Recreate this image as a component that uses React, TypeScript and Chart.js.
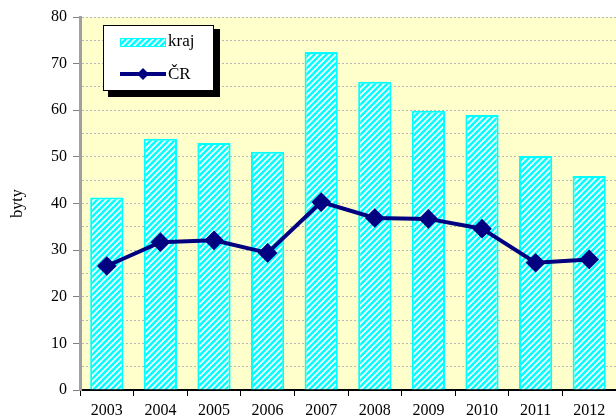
import React, { useEffect, useRef } from "react";
import { Chart, registerables } from "chart.js";

Chart.register(...registerables);

const years = ["2003", "2004", "2005", "2006", "2007", "2008", "2009", "2010", "2011", "2012"];
const krajValues = [41.3, 53.9, 53.0, 51.1, 72.5, 66.1, 59.9, 59.0, 50.2, 45.9];
const crValues = [26.6, 31.7, 32.1, 29.4, 40.3, 36.9, 36.7, 34.6, 27.3, 28.0];
const yTicks = [0, 10, 20, 30, 40, 50, 60, 70, 80];

const FONT = "'Liberation Serif', 'Times New Roman', serif";
const W = 616;
const H = 417;

function makePattern(): CanvasPattern | string {
  const c = document.createElement("canvas");
  c.width = 6;
  c.height = 6;
  const g = c.getContext("2d");
  if (!g) return "#00ffff";
  g.fillStyle = "#00ffff";
  g.fillRect(0, 0, 6, 6);
  g.strokeStyle = "#ffffff";
  g.lineWidth = 1.6;
  for (let k = -2; k <= 2; k++) {
    g.beginPath();
    g.moveTo(k * 6 - 1, 7);
    g.lineTo(k * 6 + 7, -1);
    g.stroke();
  }
  const p = g.createPattern(c, "repeat");
  return p || "#00ffff";
}

export default function App() {
  const ref = useRef<HTMLCanvasElement>(null);
  useEffect(() => {
    document.body.style.margin = "0";
    const canvas = ref.current;
    if (!canvas) return;
    const pattern = makePattern();

    const bgPlugin = {
      id: "bgPlugin",
      beforeDraw(chart: any) {
        const { ctx, chartArea } = chart;
        ctx.save();
        ctx.fillStyle = "#ffffcc";
        ctx.fillRect(chartArea.left, chartArea.top, chartArea.right - chartArea.left, chartArea.bottom - chartArea.top);
        ctx.restore();
      },
    };

    const legendPlugin = {
      id: "customLegend",
      afterDraw(chart: any) {
        const ctx = chart.ctx;
        ctx.save();
        ctx.fillStyle = "#000000";
        ctx.fillRect(108, 29, 112, 68);
        ctx.fillStyle = "#ffffff";
        ctx.fillRect(103, 25, 110, 65);
        ctx.strokeStyle = "#000000";
        ctx.lineWidth = 1;
        ctx.strokeRect(103.5, 25.5, 110, 65);
        ctx.fillStyle = pattern as any;
        ctx.fillRect(120, 38, 45, 8);
        ctx.strokeStyle = "#00ffff";
        ctx.lineWidth = 1;
        ctx.strokeRect(120.5, 38.5, 45, 8);
        ctx.strokeStyle = "#000080";
        ctx.lineWidth = 4;
        ctx.beginPath();
        ctx.moveTo(120, 74);
        ctx.lineTo(166, 74);
        ctx.stroke();
        ctx.fillStyle = "#000080";
        ctx.beginPath();
        ctx.moveTo(143, 68);
        ctx.lineTo(149, 74);
        ctx.lineTo(143, 80);
        ctx.lineTo(137, 74);
        ctx.closePath();
        ctx.fill();
        ctx.fillStyle = "#000000";
        ctx.font = "17px " + FONT;
        ctx.textBaseline = "middle";
        ctx.textAlign = "left";
        ctx.fillText("kraj", 168, 42);
        ctx.fillText("ČR", 168, 75);
        ctx.restore();
      },
    };

    const chart = new Chart(canvas, {
      data: {
        labels: years,
        datasets: [
          {
            type: "line",
            label: "ČR",
            data: crValues,
            borderColor: "#000080",
            backgroundColor: "#000080",
            borderWidth: 4,
            pointStyle: "rectRot",
            pointRadius: 7,
            pointBackgroundColor: "#000080",
            pointBorderColor: "#000080",
            tension: 0,
            order: 0,
          },
          {
            type: "bar",
            label: "kraj",
            data: krajValues,
            backgroundColor: pattern as any,
            borderColor: "#00ffff",
            borderWidth: 2,
            categoryPercentage: 1,
            barPercentage: 0.62,
            order: 1,
          },
        ],
      } as any,
      options: {
        animation: false,
        responsive: false,
        maintainAspectRatio: false,
        layout: { autoPadding: false, padding: { top: 17, left: 0, right: 0, bottom: 0 } },
        plugins: {
          legend: { display: false },
          tooltip: { enabled: false },
        },
        scales: {
          x: {
            offset: true,
            grid: {
              display: true,
              drawOnChartArea: false,
              offset: true,
              tickLength: 6,
              tickColor: "#000000",
              tickWidth: 1,
            },
            border: { display: true, color: "#000000", width: 2 },
            ticks: {
              color: "#000000",
              font: { family: FONT, size: 16 },
              padding: 5,
              maxRotation: 0,
            },
            afterFit(scale: any) {
              scale.height = 27;
              scale.paddingRight = 0;
              scale.paddingLeft = 0;
            },
          },
          y: {
            min: 0,
            max: 80,
            ticks: {
              stepSize: 5,
              color: "#000000",
              font: { family: FONT, size: 16 },
              padding: 6,
              callback: (v: any) => (yTicks.includes(Number(v)) ? String(v) : ""),
            },
            grid: {
              color: (c: any) => (c.tick && c.tick.value === 0 ? "transparent" : "#b8b8b8"),
              lineWidth: 1,
              tickLength: 7,
              tickColor: (c: any) => (c.tick && c.tick.value % 10 === 0 ? "#808080" : "transparent"),
              tickBorderDash: [],
            },
            border: { display: true, color: "#a0a0a0", width: 3, dash: [2, 2] },
            title: {
              display: true,
              text: "byty",
              color: "#000000",
              font: { family: FONT, size: 16 },
              padding: { top: 8, bottom: 0 },
            },
            afterFit(scale: any) {
              scale.width = 80;
            },
          },
        },
      } as any,
      plugins: [bgPlugin, legendPlugin],
    });
    return () => chart.destroy();
  }, []);
  return <canvas ref={ref} width={W} height={H} style={{ display: "block" }} />;
}
